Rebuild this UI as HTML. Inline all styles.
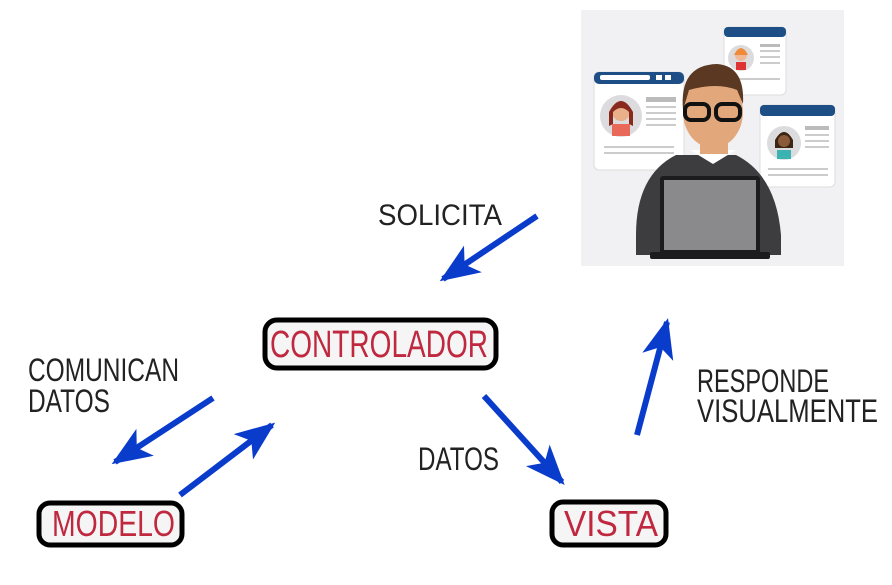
<!DOCTYPE html>
<html><head><meta charset="utf-8"><style>
html,body{margin:0;padding:0;background:#fff;}
svg{display:block;}
text{font-family:"Liberation Sans",sans-serif;}
</style></head><body>
<svg width="892" height="585" viewBox="0 0 892 585" xmlns="http://www.w3.org/2000/svg">
<defs>
<marker id="ah" markerUnits="userSpaceOnUse" markerWidth="40" markerHeight="36" refX="36" refY="18" orient="auto" viewBox="0 0 40 36">
<path d="M0,2 L40,18 L0,34 L10,18 z" fill="#0a3ccc"/>
</marker>
</defs>
<!-- illustration -->
<rect x="581" y="10" width="263" height="256" fill="#f1f1f3"/>
<g>
 <rect x="594" y="72" width="90" height="98" rx="5" fill="#fff" stroke="#ddd"/>
 <rect x="594" y="72" width="90" height="12" rx="5" fill="#1d4f86"/>
 <rect x="600" y="75" width="50" height="5" rx="2" fill="#fff"/><rect x="656" y="75" width="6" height="5" fill="#fff"/><rect x="665" y="75" width="6" height="5" fill="#fff"/>
 <circle cx="621" cy="116" r="21" fill="#dcdcdf"/><circle cx="621" cy="112" r="9" fill="#e9b08a"/><path d="M609,112 q12,-22 24,0 l0,14 l-4,-2 l0,-12 q-8,-8 -16,0 l0,12 l-4,2z" fill="#8a2a1e"/><rect x="612" y="124" width="18" height="12" fill="#e8685a"/>
 <rect x="646" y="97" width="30" height="5" fill="#bbb"/><rect x="646" y="106" width="30" height="2" fill="#ccc"/><rect x="646" y="112" width="30" height="2" fill="#ccc"/><rect x="646" y="118" width="30" height="2" fill="#ccc"/><rect x="646" y="124" width="30" height="2" fill="#ccc"/><rect x="604" y="146" width="70" height="2" fill="#ccc"/><rect x="604" y="152" width="70" height="2" fill="#ccc"/>
 <rect x="724" y="27" width="62" height="68" rx="5" fill="#fff" stroke="#ddd"/>
 <rect x="724" y="27" width="62" height="10" rx="4" fill="#1d4f86"/>
 <circle cx="741" cy="58" r="13" fill="#dcdcdf"/><circle cx="741" cy="55" r="6" fill="#f0b894"/><path d="M734,55 q7,-14 14,0 z" fill="#f08a3a"/><rect x="736" y="62" width="10" height="8" fill="#d33"/>
 <rect x="760" y="44" width="20" height="3" fill="#bbb"/><rect x="760" y="50" width="20" height="2" fill="#ccc"/><rect x="760" y="56" width="20" height="2" fill="#ccc"/><rect x="760" y="62" width="20" height="2" fill="#ccc"/><rect x="730" y="78" width="50" height="2" fill="#ccc"/>
 <rect x="760" y="105" width="75" height="82" rx="5" fill="#fff" stroke="#ddd"/>
 <rect x="760" y="105" width="75" height="11" rx="4" fill="#1d4f86"/>
 <circle cx="784" cy="143" r="17" fill="#dcdcdf"/><circle cx="784" cy="140" r="7" fill="#8a5a3a"/><path d="M775,140 q9,-16 18,0 l0,8 l-18,0z" fill="#3a2514"/><circle cx="784" cy="141" r="6" fill="#8a5a3a"/><rect x="777" y="150" width="14" height="9" fill="#3bb3b3"/>
 <rect x="805" y="126" width="24" height="4" fill="#bbb"/><rect x="805" y="134" width="24" height="2" fill="#ccc"/><rect x="805" y="140" width="24" height="2" fill="#ccc"/><rect x="805" y="146" width="24" height="2" fill="#ccc"/><rect x="768" y="168" width="60" height="2" fill="#ccc"/><rect x="768" y="174" width="60" height="2" fill="#ccc"/>
 <!-- man -->
 <path d="M636,235 q0,-60 40,-80 l60,0 q40,20 45,80 l0,20 l-145,0z" fill="#3d3d3f"/>
 <path d="M690,150 l46,0 l-23,14z" fill="#fff"/>
 <rect x="700" y="128" width="28" height="26" fill="#e3a77c"/>
 <ellipse cx="713" cy="112" rx="30" ry="36" fill="#e3a77c"/>
 <path d="M683,110 q-4,-45 34,-46 q28,2 26,40 l-6,-14 q-20,-8 -48,0z" fill="#5a3821"/>
 <rect x="685" y="104" width="24" height="16" rx="6" fill="none" stroke="#111" stroke-width="4"/><rect x="716" y="104" width="24" height="16" rx="6" fill="none" stroke="#111" stroke-width="4"/>
 <rect x="660" y="176" width="100" height="78" rx="3" fill="#1c1c1e"/>
 <rect x="664" y="180" width="92" height="70" fill="#8a8a8c"/>
 <rect x="650" y="252" width="120" height="7" rx="2" fill="#1c1c1e"/>
</g>
<!-- arrows -->
<g stroke="#0a3ccc" stroke-width="6" fill="none" marker-end="url(#ah)">
 <line x1="537" y1="216" x2="443" y2="279"/>
 <line x1="213" y1="398" x2="115" y2="462"/>
 <line x1="180" y1="495" x2="272" y2="425"/>
 <line x1="484" y1="396" x2="562" y2="482"/>
 <line x1="637" y1="435" x2="667" y2="322"/>
</g>
<!-- boxes -->
<rect x="265" y="320" width="231" height="48" rx="12" fill="#f5f5f5" stroke="#000" stroke-width="5"/>
<rect x="39" y="503" width="143" height="42" rx="11" fill="#f5f5f5" stroke="#000" stroke-width="5"/>
<rect x="552" y="502" width="114" height="43" rx="11" fill="#f5f5f5" stroke="#000" stroke-width="5"/>
<g fill="#c0283f">
 <text x="270" y="357" font-size="38" textLength="218" lengthAdjust="spacingAndGlyphs">CONTROLADOR</text>
 <text x="52" y="536" font-size="36" textLength="123" lengthAdjust="spacingAndGlyphs">MODELO</text>
 <text x="564" y="536" font-size="36" textLength="94" lengthAdjust="spacingAndGlyphs">VISTA</text>
</g>
<g fill="#222">
 <text x="378" y="225" font-size="30" textLength="124" lengthAdjust="spacingAndGlyphs">SOLICITA</text>
 <text x="28" y="381" font-size="32" textLength="151" lengthAdjust="spacingAndGlyphs">COMUNICAN</text>
 <text x="28" y="412" font-size="32" textLength="82" lengthAdjust="spacingAndGlyphs">DATOS</text>
 <text x="418" y="470" font-size="32" textLength="81" lengthAdjust="spacingAndGlyphs">DATOS</text>
 <text x="697" y="392" font-size="32" textLength="132" lengthAdjust="spacingAndGlyphs">RESPONDE</text>
 <text x="697" y="422" font-size="32" textLength="181" lengthAdjust="spacingAndGlyphs">VISUALMENTE</text>
</g>
</svg>
</body></html>
